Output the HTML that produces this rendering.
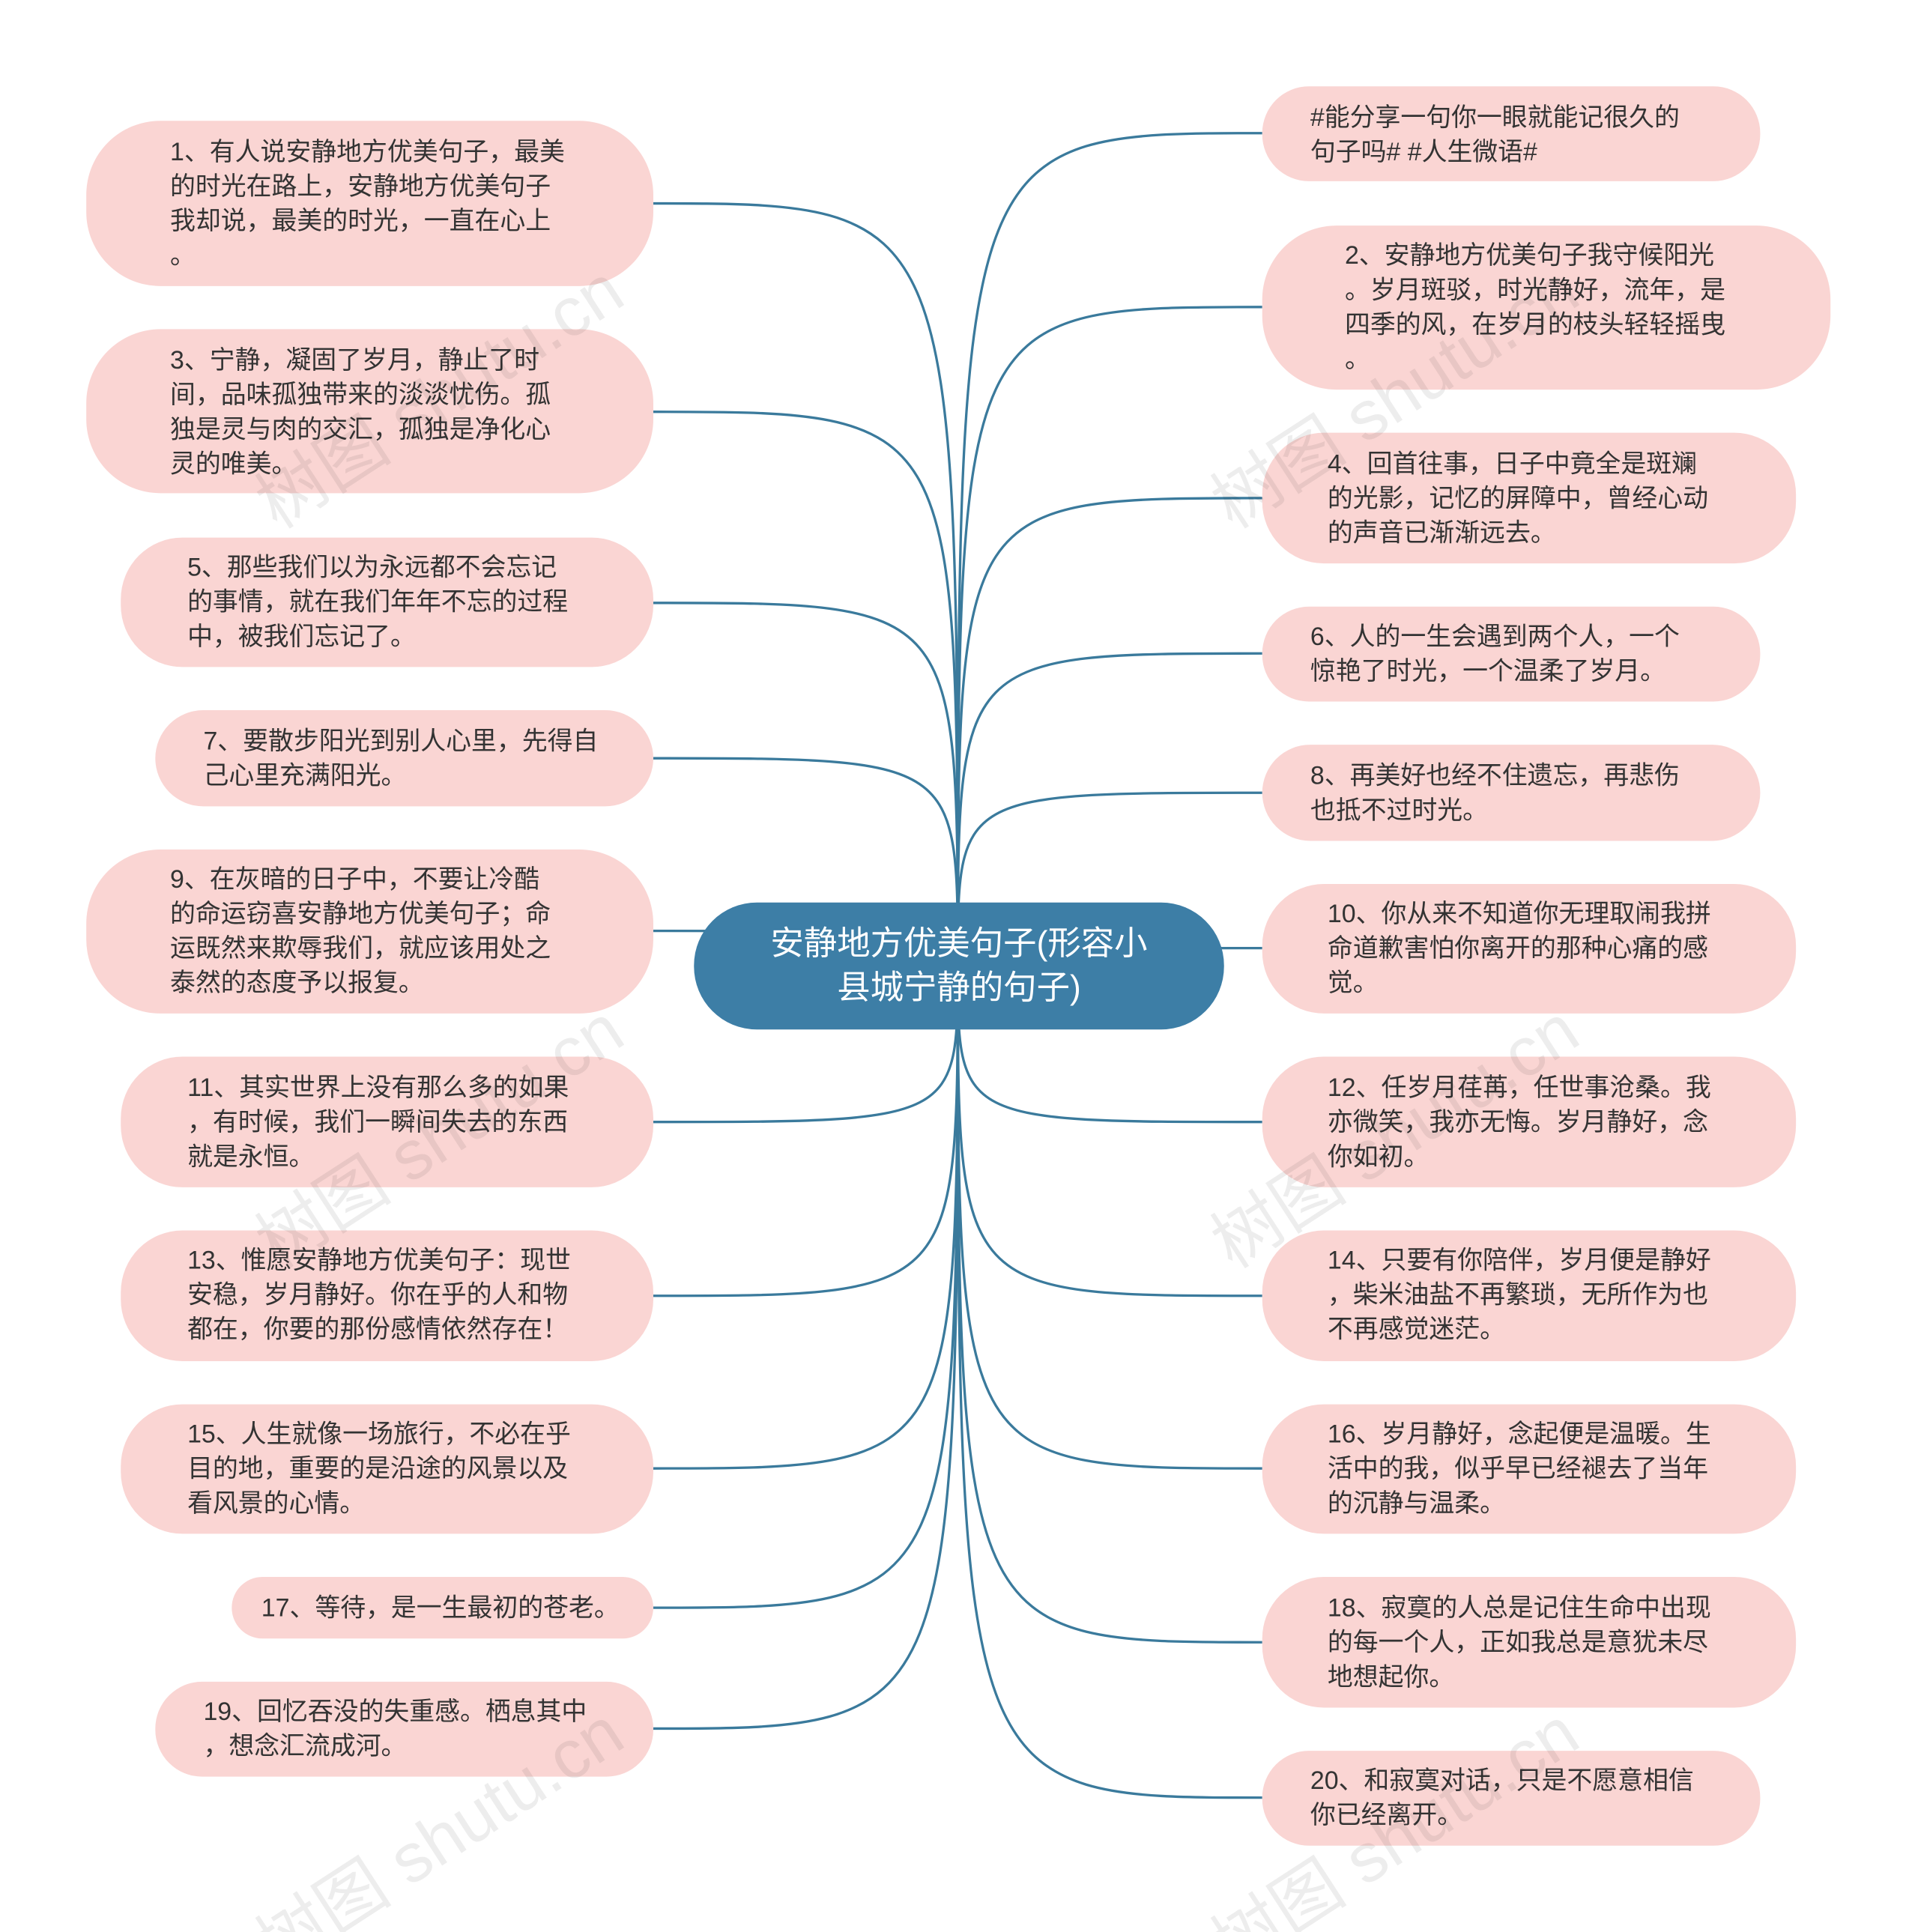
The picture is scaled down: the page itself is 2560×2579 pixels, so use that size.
<!DOCTYPE html>
<html><head><meta charset="utf-8"><style>
html,body{margin:0;padding:0;background:#fff;}
svg{display:block;}
text{font-family:"Liberation Sans","Noto Sans CJK SC",sans-serif;}
</style></head><body>
<svg width="2560" height="2579" viewBox="0 0 1556 1567" preserveAspectRatio="none" xmlns="http://www.w3.org/2000/svg">
<g fill="none" stroke="#3a7a9c" stroke-width="2">
<path d="M777 783 C777 165,777 165,530 165"/>
<path d="M777 783 C777 334,777 334,530 334"/>
<path d="M777 783 C777 489,777 489,530 489"/>
<path d="M777 783 C777 615,777 615,530 615"/>
<path d="M777 783 C777 755,777 755,530 755"/>
<path d="M777 783 C777 910,777 910,530 910"/>
<path d="M777 783 C777 1051,777 1051,530 1051"/>
<path d="M777 783 C777 1191,777 1191,530 1191"/>
<path d="M777 783 C777 1304,777 1304,530 1304"/>
<path d="M777 783 C777 1402,777 1402,530 1402"/>
<path d="M777 783 C777 108,777 108,1024 108"/>
<path d="M777 783 C777 249,777 249,1024 249"/>
<path d="M777 783 C777 404,777 404,1024 404"/>
<path d="M777 783 C777 530,777 530,1024 530"/>
<path d="M777 783 C777 643,777 643,1024 643"/>
<path d="M777 783 C777 769,777 769,1024 769"/>
<path d="M777 783 C777 910,777 910,1024 910"/>
<path d="M777 783 C777 1051,777 1051,1024 1051"/>
<path d="M777 783 C777 1191,777 1191,1024 1191"/>
<path d="M777 783 C777 1332,777 1332,1024 1332"/>
<path d="M777 783 C777 1458,777 1458,1024 1458"/>
</g>
<g fill="#fad5d3">
<rect x="70" y="98" width="460" height="134" rx="60"/>
<rect x="70" y="267" width="460" height="133" rx="60"/>
<rect x="98" y="436" width="432" height="105" rx="50"/>
<rect x="126" y="576" width="404" height="78" rx="39"/>
<rect x="70" y="689" width="460" height="133" rx="60"/>
<rect x="98" y="857" width="432" height="106" rx="50"/>
<rect x="98" y="998" width="432" height="106" rx="50"/>
<rect x="98" y="1139" width="432" height="105" rx="50"/>
<rect x="188" y="1279" width="342" height="50" rx="25"/>
<rect x="126" y="1364" width="404" height="77" rx="38"/>
<rect x="1024" y="70" width="404" height="77" rx="38"/>
<rect x="1024" y="183" width="461" height="133" rx="60"/>
<rect x="1024" y="351" width="433" height="106" rx="50"/>
<rect x="1024" y="492" width="404" height="77" rx="38"/>
<rect x="1024" y="604" width="404" height="78" rx="39"/>
<rect x="1024" y="717" width="433" height="105" rx="50"/>
<rect x="1024" y="857" width="433" height="106" rx="50"/>
<rect x="1024" y="998" width="433" height="106" rx="50"/>
<rect x="1024" y="1139" width="433" height="105" rx="50"/>
<rect x="1024" y="1279" width="433" height="106" rx="50"/>
<rect x="1024" y="1420" width="404" height="77" rx="38"/>
</g>
<rect x="563" y="732" width="430" height="103" rx="51" fill="#3d7ea6"/>
<g fill="#fff" font-size="27" text-anchor="middle">
<text x="778" y="774">安静地方优美句子(形容小</text>
<text x="778" y="810">县城宁静的句子)</text>
</g>
<g fill="#333" font-size="20.6">
<text x="138" y="130">1、有人说安静地方优美句子，最美</text>
<text x="138" y="158">的时光在路上，安静地方优美句子</text>
<text x="138" y="186">我却说，最美的时光，一直在心上</text>
<text x="138" y="214">。</text>
<text x="138" y="299">3、宁静，凝固了岁月，静止了时</text>
<text x="138" y="327">间，品味孤独带来的淡淡忧伤。孤</text>
<text x="138" y="355">独是灵与肉的交汇，孤独是净化心</text>
<text x="138" y="383">灵的唯美。</text>
<text x="152" y="467">5、那些我们以为永远都不会忘记</text>
<text x="152" y="495">的事情，就在我们年年不忘的过程</text>
<text x="152" y="523">中，被我们忘记了。</text>
<text x="165" y="608">7、要散步阳光到别人心里，先得自</text>
<text x="165" y="636">己心里充满阳光。</text>
<text x="138" y="720">9、在灰暗的日子中，不要让冷酷</text>
<text x="138" y="748">的命运窃喜安静地方优美句子；命</text>
<text x="138" y="776">运既然来欺辱我们，就应该用处之</text>
<text x="138" y="804">泰然的态度予以报复。</text>
<text x="152" y="889">11、其实世界上没有那么多的如果</text>
<text x="152" y="917">，有时候，我们一瞬间失去的东西</text>
<text x="152" y="945">就是永恒。</text>
<text x="152" y="1029">13、惟愿安静地方优美句子：现世</text>
<text x="152" y="1057">安稳，岁月静好。你在乎的人和物</text>
<text x="152" y="1085">都在，你要的那份感情依然存在！</text>
<text x="152" y="1170">15、人生就像一场旅行，不必在乎</text>
<text x="152" y="1198">目的地，重要的是沿途的风景以及</text>
<text x="152" y="1226">看风景的心情。</text>
<text x="212" y="1311">17、等待，是一生最初的苍老。</text>
<text x="165" y="1395">19、回忆吞没的失重感。栖息其中</text>
<text x="165" y="1423">，想念汇流成河。</text>
<text x="1063" y="102">#能分享一句你一眼就能记很久的</text>
<text x="1063" y="130">句子吗# #人生微语#</text>
<text x="1091" y="214">2、安静地方优美句子我守候阳光</text>
<text x="1091" y="242">。岁月斑驳，时光静好，流年，是</text>
<text x="1091" y="270">四季的风，在岁月的枝头轻轻摇曳</text>
<text x="1091" y="298">。</text>
<text x="1077" y="383">4、回首往事，日子中竟全是斑斓</text>
<text x="1077" y="411">的光影，记忆的屏障中，曾经心动</text>
<text x="1077" y="439">的声音已渐渐远去。</text>
<text x="1063" y="523">6、人的一生会遇到两个人，一个</text>
<text x="1063" y="551">惊艳了时光，一个温柔了岁月。</text>
<text x="1063" y="636">8、再美好也经不住遗忘，再悲伤</text>
<text x="1063" y="664">也抵不过时光。</text>
<text x="1077" y="748">10、你从来不知道你无理取闹我拼</text>
<text x="1077" y="776">命道歉害怕你离开的那种心痛的感</text>
<text x="1077" y="804">觉。</text>
<text x="1077" y="889">12、任岁月荏苒，任世事沧桑。我</text>
<text x="1077" y="917">亦微笑，我亦无悔。岁月静好，念</text>
<text x="1077" y="945">你如初。</text>
<text x="1077" y="1029">14、只要有你陪伴，岁月便是静好</text>
<text x="1077" y="1057">，柴米油盐不再繁琐，无所作为也</text>
<text x="1077" y="1085">不再感觉迷茫。</text>
<text x="1077" y="1170">16、岁月静好，念起便是温暖。生</text>
<text x="1077" y="1198">活中的我，似乎早已经褪去了当年</text>
<text x="1077" y="1226">的沉静与温柔。</text>
<text x="1077" y="1311">18、寂寞的人总是记住生命中出现</text>
<text x="1077" y="1339">的每一个人，正如我总是意犹未尽</text>
<text x="1077" y="1367">地想起你。</text>
<text x="1063" y="1451">20、和寂寞对话，只是不愿意相信</text>
<text x="1063" y="1479">你已经离开。</text>
</g>
<g fill="#000" fill-opacity="0.07" font-size="56">
<text transform="translate(225 430) rotate(-33)">树图 shutu.cn</text>
<text transform="translate(1000 430) rotate(-33)">树图 shutu.cn</text>
<text transform="translate(225 1030) rotate(-33)">树图 shutu.cn</text>
<text transform="translate(1000 1030) rotate(-33)">树图 shutu.cn</text>
<text transform="translate(225 1600) rotate(-33)">树图 shutu.cn</text>
<text transform="translate(1000 1600) rotate(-33)">树图 shutu.cn</text>
</g>
</svg>
</body></html>
